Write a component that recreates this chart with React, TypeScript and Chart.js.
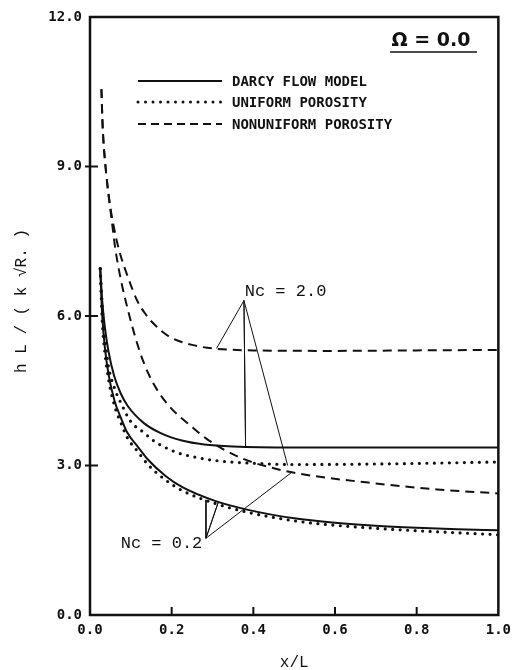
import React, { useEffect, useRef } from "react";
import { Chart, registerables } from "chart.js";

Chart.register(...registerables);

// ---- data ----
const darcyNc2X = [0.025, 0.03, 0.036, 0.045, 0.059, 0.075, 0.092, 0.132, 0.173, 0.225, 0.28, 0.35, 0.5, 0.75, 1.0];
const darcyNc2Y = [6.95, 6.3, 5.8, 5.3, 4.8, 4.45, 4.2, 3.85, 3.65, 3.5, 3.42, 3.38, 3.36, 3.36, 3.36];

const uniformNc2X = [0.025, 0.03, 0.036, 0.045, 0.06, 0.076, 0.1, 0.132, 0.152, 0.173, 0.213, 0.25, 0.306, 0.387, 0.5, 0.7, 1.0];
const uniformNc2Y = [6.95, 6.2, 5.6, 5.0, 4.55, 4.25, 3.88, 3.66, 3.52, 3.41, 3.26, 3.18, 3.1, 3.05, 3.02, 3.03, 3.07];

const nonuniformNc2X = [0.028, 0.031, 0.038, 0.046, 0.058, 0.072, 0.092, 0.116, 0.135, 0.152, 0.175, 0.2, 0.25, 0.3, 0.4, 0.6, 0.8, 1.0];
const nonuniformNc2Y = [10.55, 9.8, 9.0, 8.4, 7.8, 7.3, 6.8, 6.3, 6.05, 5.88, 5.7, 5.56, 5.42, 5.35, 5.31, 5.3, 5.31, 5.32];

const nc02X = [0.025, 0.03, 0.036, 0.045, 0.06, 0.076, 0.092, 0.115, 0.144, 0.185, 0.225, 0.306, 0.387, 0.5, 0.6, 0.7, 0.8, 0.9, 1.0];
const darcyNc02Y = [6.95, 6.0, 5.4, 4.85, 4.3, 3.95, 3.65, 3.4, 3.1, 2.79, 2.57, 2.29, 2.11, 1.94, 1.85, 1.79, 1.75, 1.72, 1.7];
const uniformNc02Y = [6.95, 5.9, 5.3, 4.75, 4.2, 3.85, 3.55, 3.3, 3.0, 2.71, 2.5, 2.24, 2.06, 1.89, 1.8, 1.74, 1.69, 1.65, 1.61];

const nonuniformNc02X = [0.028, 0.031, 0.038, 0.046, 0.055, 0.062, 0.075, 0.092, 0.11, 0.13, 0.155, 0.193, 0.249, 0.29, 0.37, 0.467, 0.54, 0.7, 0.85, 1.0];
const nonuniformNc02Y = [10.55, 9.8, 9.0, 8.4, 7.8, 7.35, 6.75, 6.15, 5.6, 5.1, 4.65, 4.2, 3.78, 3.51, 3.15, 2.91, 2.8, 2.64, 2.52, 2.44];

// annotation leader lines
const nc2LeaderX = [0.31, 0.377, 0.381, 0.377, 0.484];
const nc2LeaderY = [5.35, 6.31, 3.37, 6.31, 3.0];
const nc02LeaderX = [0.284, 0.284, 0.314, 0.284, 0.492];
const nc02LeaderY = [2.31, 1.54, 2.26, 1.54, 2.85];

const legendLabels = ["DARCY FLOW MODEL", "UNIFORM POROSITY", "NONUNIFORM POROSITY"];
const nc2Label = "Nc = 2.0";
const nc02Label = "Nc = 0.2";
const omegaLabel = "Ω = 0.0";
const xTitle = "x/L";
const yTitle = "h L / ( k √R. )";

const xTicks = [0.2, 0.4, 0.6, 0.8];
const yTicks = [3, 6, 9];

const INK = "#111";

function pts(xs: number[], ys: number[]) {
  return xs.map((x, i) => ({ x, y: ys[i] }));
}

const solid = { borderColor: INK, borderWidth: 2, pointRadius: 0, cubicInterpolationMode: "monotone" as const, fill: false };
const dotted = { borderColor: INK, borderWidth: 3.2, borderDash: [0, 7.5], borderCapStyle: "round" as const, pointRadius: 0, cubicInterpolationMode: "monotone" as const, fill: false };
const dashed = { borderColor: INK, borderWidth: 2, borderDash: [9, 6], pointRadius: 0, cubicInterpolationMode: "monotone" as const, fill: false };
const leader = { borderColor: INK, borderWidth: 1, pointRadius: 0, tension: 0, fill: false };

const decorPlugin = {
  id: "decor",
  afterDraw(chart: any) {
    const { ctx, chartArea } = chart;
    const { left, right, top, bottom } = chartArea;
    const xs = chart.scales.x;
    const ys = chart.scales.y;
    ctx.save();
    ctx.strokeStyle = INK;
    ctx.fillStyle = INK;
    ctx.setLineDash([]);
    // frame
    ctx.lineWidth = 2.5;
    ctx.strokeRect(left, top, right - left, bottom - top);
    // ticks
    ctx.lineWidth = 2;
    xTicks.forEach((v) => {
      const p = xs.getPixelForValue(v);
      ctx.beginPath();
      ctx.moveTo(p, bottom);
      ctx.lineTo(p, bottom - 8);
      ctx.stroke();
    });
    yTicks.forEach((v) => {
      const p = ys.getPixelForValue(v);
      ctx.beginPath();
      ctx.moveTo(left - 5, p);
      ctx.lineTo(left + 8, p);
      ctx.stroke();
    });
    // legend
    const lx0 = left + 48, lx1 = left + 132, tx = left + 142;
    const rows = [top + 64, top + 85, top + 107];
    ctx.font = "bold 14px 'DejaVu Sans Mono'";
    ctx.textBaseline = "middle";
    ctx.textAlign = "left";
    rows.forEach((y, i) => {
      ctx.beginPath();
      if (i === 0) { ctx.lineWidth = 2; ctx.setLineDash([]); ctx.lineCap = "butt"; }
      if (i === 1) { ctx.lineWidth = 3; ctx.setLineDash([0, 7.5]); ctx.lineCap = "round"; }
      if (i === 2) { ctx.lineWidth = 2; ctx.setLineDash([8, 5]); ctx.lineCap = "butt"; }
      ctx.moveTo(lx0, y);
      ctx.lineTo(lx1, y);
      ctx.stroke();
      ctx.setLineDash([]);
      ctx.lineCap = "butt";
      ctx.fillText(legendLabels[i], tx, y + 1);
    });
    // omega label
    ctx.font = "bold 19px 'DejaVu Sans'";
    ctx.textAlign = "center";
    ctx.textBaseline = "alphabetic";
    ctx.fillText(omegaLabel, 431, top + 29);
    ctx.lineWidth = 1.5;
    ctx.beginPath();
    ctx.moveTo(390, top + 35);
    ctx.lineTo(477, top + 35);
    ctx.stroke();
    // annotation labels
    ctx.font = "17px 'Liberation Mono'";
    ctx.textBaseline = "middle";
    ctx.textAlign = "left";
    ctx.fillText(nc2Label, xs.getPixelForValue(0.379), ys.getPixelForValue(6.5));
    ctx.textAlign = "right";
    ctx.fillText(nc02Label, xs.getPixelForValue(0.275), ys.getPixelForValue(1.44));
    // axis titles
    ctx.font = "16px 'Liberation Mono'";
    ctx.textAlign = "center";
    ctx.fillText(xTitle, (left + right) / 2, 663);
    ctx.save();
    ctx.translate(22, (top + bottom) / 2 - 15);
    ctx.rotate(-Math.PI / 2);
    ctx.fillText(yTitle, 0, 0);
    ctx.restore();
    ctx.restore();
  },
};

export default function App() {
  const ref = useRef<HTMLCanvasElement>(null);
  useEffect(() => {
    if (!ref.current) return;
    const tickFont = { family: "'DejaVu Sans Mono'", size: 14, weight: "bold" as const };
    const chart = new Chart(ref.current, {
      type: "line",
      data: {
        datasets: [
          { label: "Darcy Nc=2.0", data: pts(darcyNc2X, darcyNc2Y), ...solid },
          { label: "Uniform Nc=2.0", data: pts(uniformNc2X, uniformNc2Y), ...dotted },
          { label: "Nonuniform Nc=2.0", data: pts(nonuniformNc2X, nonuniformNc2Y), ...dashed },
          { label: "Darcy Nc=0.2", data: pts(nc02X, darcyNc02Y), ...solid },
          { label: "Uniform Nc=0.2", data: pts(nc02X, uniformNc02Y), ...dotted },
          { label: "Nonuniform Nc=0.2", data: pts(nonuniformNc02X, nonuniformNc02Y), ...dashed },
          { label: "Nc=2.0 leader", data: pts(nc2LeaderX, nc2LeaderY), ...leader },
          { label: "Nc=0.2 leader", data: pts(nc02LeaderX, nc02LeaderY), ...leader },
        ],
      },
      options: {
        responsive: false,
        animation: false,
        devicePixelRatio: 1,
        layout: { padding: { left: 0, right: 16, top: 17, bottom: 0 } },
        plugins: { legend: { display: false }, tooltip: { enabled: false }, title: { display: false } },
        scales: {
          x: {
            type: "linear",
            min: 0,
            max: 1,
            grid: { display: false, drawTicks: false, tickLength: 0 },
            border: { display: false },
            ticks: { stepSize: 0.2, padding: 7, color: INK, font: tickFont, maxRotation: 0, callback: (v: any) => Number(v).toFixed(1) },
            afterFit: (s: any) => { s.height = 55; },
          },
          y: {
            type: "linear",
            min: 0,
            max: 12,
            grid: { display: false, drawTicks: false, tickLength: 0 },
            border: { display: false },
            ticks: { stepSize: 3, padding: 8, color: INK, font: tickFont, callback: (v: any) => Number(v).toFixed(1) },
            afterFit: (s: any) => { s.width = 90; },
          },
        },
      },
      plugins: [decorPlugin],
    });
    return () => chart.destroy();
  }, []);
  return (
    <div style={{ position: "absolute", left: 0, top: 0, width: 518, height: 670, background: "#fff" }}>
      <canvas ref={ref} width={518} height={670} style={{ width: 518, height: 670, display: "block" }} />
    </div>
  );
}
